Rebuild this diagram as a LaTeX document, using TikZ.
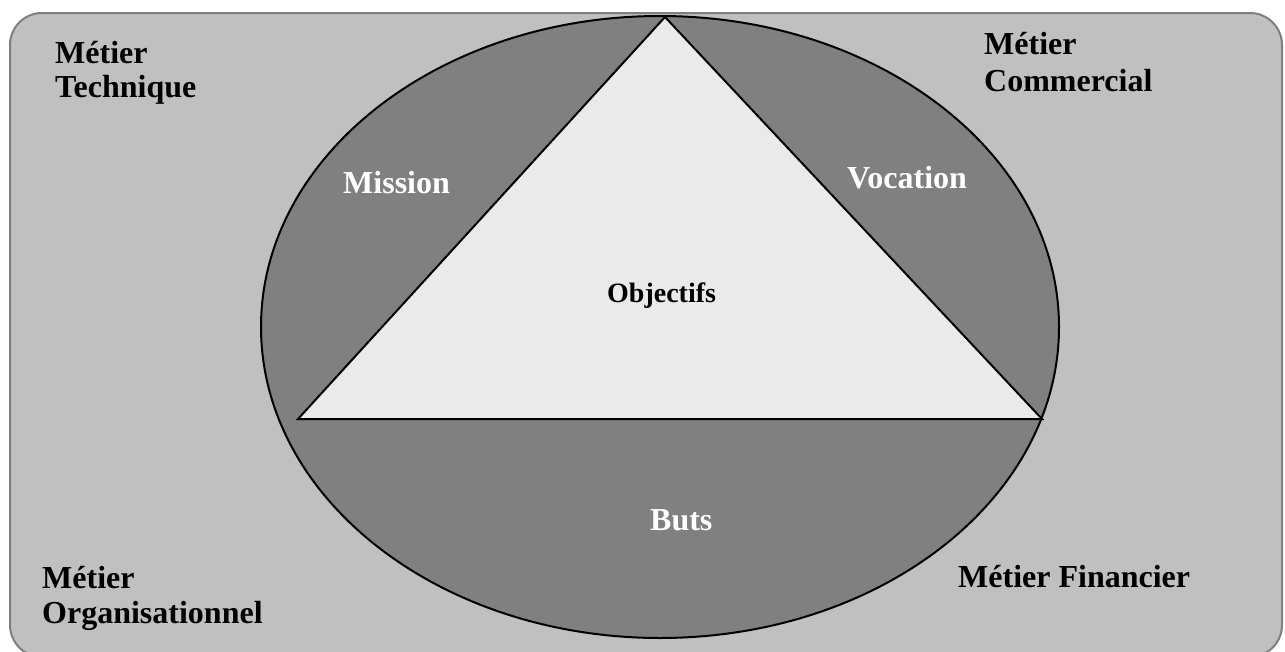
\documentclass[tikz,border=0pt]{standalone}
\usepackage{fontspec}
\setmainfont{Liberation Serif}
\definecolor{outerfill}{HTML}{C0C0C0}
\definecolor{outerline}{HTML}{7F7F7F}
\definecolor{ringfill}{HTML}{808080}
\definecolor{trifill}{HTML}{EAEAEA}
\tikzset{
  lbl/.style={anchor=base west, inner sep=0pt, font=\fontsize{32}{36}\selectfont\bfseries},
  wlbl/.style={lbl, text=white},
}
\begin{document}
\begin{tikzpicture}[x=1pt,y=-1pt]
\useasboundingbox (0,0) rectangle (1285,651);
\clip (0,0) rectangle (1285,651);
\draw[outerline, line width=2pt, fill=outerfill, rounded corners=32pt] (10,13) rectangle (1282,657);
\draw[black, line width=2pt, fill=ringfill] (660,327) ellipse [x radius=399, y radius=311];
\coordinate (apex) at (665,17);
\coordinate (bl) at (298,419);
\coordinate (br) at (1042,419);
\draw[black, line width=2pt, fill=trifill, line join=miter] (apex) -- (br) -- (bl) -- cycle;
\node[lbl] (t1) at (55,63) {Métier};
\node[lbl] (t2) at (55,97) {Technique};
\node[lbl] (c1) at (984,54) {Métier};
\node[lbl] (c2) at (984,91) {Commercial};
\node[lbl] (o1) at (42,588) {Métier};
\node[lbl] (o2) at (42,623) {Organisationnel};
\node[lbl] (f1) at (958,587) {Métier Financier};
\node[wlbl] (mi) at (343,193) {Mission};
\node[wlbl] (vo) at (847,188) {Vocation};
\node[wlbl] (bu) at (650,530) {Buts};
\node[anchor=base west, inner sep=0pt, font=\fontsize{28}{30}\selectfont\bfseries] (ob) at (607,302) {Objectifs};
\end{tikzpicture}
\end{document}
